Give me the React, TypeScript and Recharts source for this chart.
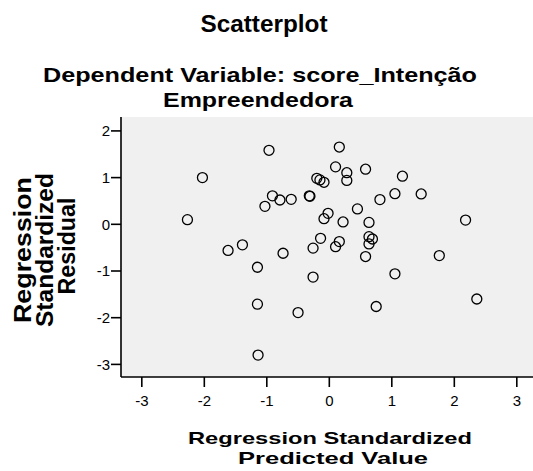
import { ScatterChart, Scatter, XAxis, YAxis, CartesianGrid } from 'recharts';

// Regression standardized predicted value (x) and residual (y)
const predicted = [
  -0.965, -2.03, -2.27, -0.91, -0.79, -0.61, -1.03, -0.32, -0.31, -0.2, -0.15, -0.085,
  -1.62, -1.39, -0.74, -1.15, -1.15, -0.5, -1.14, -0.26, -0.26, 0.16, 0.1, 0.28, 0.28,
  0.58, 1.17, 0.81, 1.05, 1.47, 0.45, -0.02, -0.085, 0.22, 0.635, 2.18, -0.14, 0.16,
  0.1, 0.635, 0.69, 0.635, 0.58, 1.76, 1.05, 2.36, 0.75,
];
const residual = [
  1.585, 1.0, 0.1, 0.61, 0.52, 0.535, 0.385, 0.61, 0.6, 0.985, 0.95, 0.9,
  -0.56, -0.44, -0.62, -0.92, -1.71, -1.89, -2.8, -0.51, -1.13, 1.655, 1.23, 1.105, 0.94,
  1.18, 1.03, 0.53, 0.655, 0.65, 0.33, 0.235, 0.12, 0.05, 0.04, 0.09, -0.3, -0.37,
  -0.48, -0.265, -0.315, -0.42, -0.69, -0.67, -1.06, -1.6, -1.76,
];
const xTicks = [-3, -2, -1, 0, 1, 2, 3];
const yTicks = [-3, -2, -1, 0, 1, 2];

const points = predicted.map((x, i) => ({ x, y: residual[i] }));

const FONT = '"Liberation Sans", Arial, sans-serif';

const OpenCircle = (props: any) => (
  <circle cx={props.cx} cy={props.cy} r={5} fill="none" stroke="#000" strokeWidth={1.3} />
);

export default function App() {
  return (
    <div
      style={{
        position: 'absolute',
        left: 0,
        top: 0,
        width: 533,
        height: 471,
        overflow: 'hidden',
        background: '#fff',
      }}
    >
      <ScatterChart
        width={540}
        height={471}
        margin={{ top: 117, right: 0, bottom: 0, left: 0 }}
        style={{ fontFamily: FONT }}
      >
        <CartesianGrid fill="#f0f0f0" horizontal={false} vertical={false} />
        <XAxis
          type="number"
          dataKey="x"
          domain={[-3.333, 3.371]}
          allowDataOverflow
          ticks={xTicks}
          height={94}
          tickSize={10}
          tickMargin={8}
          axisLine={{ stroke: '#000', strokeWidth: 1.6 }}
          tickLine={{ stroke: '#000', strokeWidth: 1.6 }}
          tick={{ fill: '#000', fontSize: 15, fontFamily: FONT }}
        />
        <XAxis
          xAxisId="top"
          orientation="top"
          type="number"
          dataKey="x"
          domain={[-3.333, 3.371]}
          allowDataOverflow
          height={0}
          tick={false}
          tickLine={false}
          axisLine={{ stroke: '#000', strokeWidth: 1.6 }}
        />
        <YAxis
          type="number"
          dataKey="y"
          domain={[-3.27, 2.298]}
          allowDataOverflow
          ticks={yTicks}
          width={121}
          tickSize={10}
          tickMargin={1}
          axisLine={{ stroke: '#000', strokeWidth: 1.6 }}
          tickLine={{ stroke: '#000', strokeWidth: 1.6 }}
          tick={{ fill: '#000', fontSize: 15, fontFamily: FONT }}
        />
        <Scatter data={points} shape={OpenCircle} isAnimationActive={false} />
      </ScatterChart>
      <svg
        width={533}
        height={471}
        style={{ position: 'absolute', left: 0, top: 0, pointerEvents: 'none' }}
        fontFamily={FONT}
        fontWeight="bold"
        fill="#000"
      >
        <text x={264} y={32} fontSize={23} textAnchor="middle" textLength={127} lengthAdjust="spacingAndGlyphs">
          Scatterplot
        </text>
        <text x={260} y={82} fontSize={21} textAnchor="middle" textLength={434} lengthAdjust="spacingAndGlyphs">
          Dependent Variable: score_Intenção
        </text>
        <text x={258} y={107} fontSize={21} textAnchor="middle" textLength={190} lengthAdjust="spacingAndGlyphs">
          Empreendedora
        </text>
        <text x={330} y={444} fontSize={17} textAnchor="middle" textLength={284} lengthAdjust="spacingAndGlyphs">
          Regression Standardized
        </text>
        <text x={333} y={464} fontSize={17} textAnchor="middle" textLength={190} lengthAdjust="spacingAndGlyphs">
          Predicted Value
        </text>
        <text x={31} y={250} fontSize={24} textAnchor="middle" transform="rotate(-90 31 250)" textLength={146} lengthAdjust="spacingAndGlyphs">
          Regression
        </text>
        <text x={53} y={250} fontSize={24} textAnchor="middle" transform="rotate(-90 53 250)" textLength={154} lengthAdjust="spacingAndGlyphs">
          Standardized
        </text>
        <text x={75} y={246} fontSize={24} textAnchor="middle" transform="rotate(-90 75 246)" textLength={97} lengthAdjust="spacingAndGlyphs">
          Residual
        </text>
      </svg>
    </div>
  );
}
